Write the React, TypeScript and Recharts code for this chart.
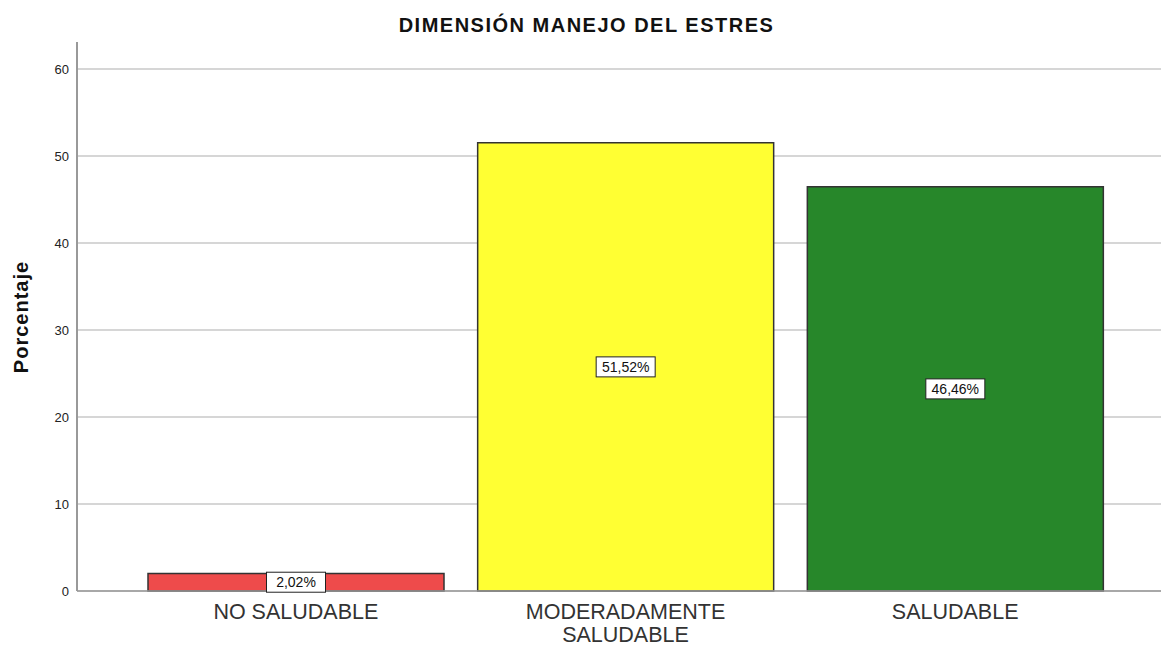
import { BarChart, Bar, XAxis, YAxis, CartesianGrid, LabelList, Cell, Text } from "recharts";

const categories = ["NO SALUDABLE", "MODERADAMENTE SALUDABLE", "SALUDABLE"];
const percentages = [2.02, 51.52, 46.46];
const barColors = ["#ee4b4b", "#ffff33", "#27872a"];
const yTicks = [0, 10, 20, 30, 40, 50, 60];
const yMax = 63.1;

const data = categories.map((name, i) => ({ name, value: percentages[i] }));

const FONT = "'Liberation Sans', Arial, sans-serif";

function CategoryTick(props: any) {
  const { x, y, payload } = props;
  return (
    <Text
      x={x}
      y={y + 5}
      width={230}
      textAnchor="middle"
      verticalAnchor="start"
      fontSize={21.5}
      fontFamily={FONT}
      fill="#333"
      lineHeight={23}
    >
      {payload.value}
    </Text>
  );
}

function ValueBox(props: any) {
  const { x, y, width, height, value } = props;
  const cx = x + width / 2;
  const cy = y + height / 2;
  const text = value.toFixed(2).replace(".", ",") + "%";
  const w = 59;
  const h = 20;
  return (
    <g>
      <rect x={cx - w / 2} y={cy - h / 2} width={w} height={h} fill="#fff" stroke="#222" strokeWidth={1} />
      <text x={cx} y={cy + 5} textAnchor="middle" fontSize={14} fontFamily={FONT} fill="#111">
        {text}
      </text>
    </g>
  );
}

// grid only at the tick values (no line at the top of the domain)
const gridRows = ({ yAxis, offset }: any) => {
  if (yAxis && typeof yAxis.scale === "function") return yTicks.map((t) => yAxis.scale(t));
  return yTicks.map((t) => offset.top + offset.height * (1 - t / yMax));
};

export default function App() {
  return (
    <div style={{ position: "absolute", left: 0, top: 0, width: 1161, height: 646, background: "#fff" }}>
      <div
        style={{
          position: "absolute",
          left: 0,
          width: 1161,
          top: 14,
          textAlign: "center",
          fontFamily: FONT,
          fontWeight: "bold",
          fontSize: 20,
          letterSpacing: 1.5,
          color: "#111",
          paddingLeft: 12,
          boxSizing: "border-box",
        }}
      >
        DIMENSIÓN MANEJO DEL ESTRES
      </div>
      <div
        style={{
          position: "absolute",
          left: 21,
          top: 317,
          transform: "translate(-50%, -50%) rotate(-90deg)",
          fontFamily: FONT,
          fontWeight: "bold",
          fontSize: 20,
          letterSpacing: 1,
          color: "#111",
          whiteSpace: "nowrap",
        }}
      >
        Porcentaje
      </div>
      <div style={{ position: "absolute", left: 0, top: 0 }}>
        <BarChart
          width={1161}
          height={646}
          data={data}
          margin={{ top: 42, right: 0, bottom: 0, left: 0 }}
          barCategoryGap={17}
        >
          <CartesianGrid
            vertical={false}
            stroke="#c8c8c8"
            strokeWidth={1.5}
            horizontalCoordinatesGenerator={gridRows}
          />
          <XAxis
            dataKey="name"
            height={55}
            padding={{ left: 54, right: 41 }}
            axisLine={{ stroke: "#999", strokeWidth: 1.5 }}
            tickLine={false}
            interval={0}
            tick={<CategoryTick />}
          />
          <YAxis
            width={77}
            domain={[0, yMax]}
            ticks={yTicks}
            axisLine={{ stroke: "#999", strokeWidth: 2 }}
            tickLine={false}
            tick={{ fontSize: 13, fill: "#222", fontFamily: FONT }}
          />
          <Bar dataKey="value" stroke="#333" strokeWidth={1.5} isAnimationActive={false}>
            {data.map((d, i) => (
              <Cell key={d.name} fill={barColors[i]} />
            ))}
            <LabelList dataKey="value" content={<ValueBox />} />
          </Bar>
        </BarChart>
      </div>
    </div>
  );
}
